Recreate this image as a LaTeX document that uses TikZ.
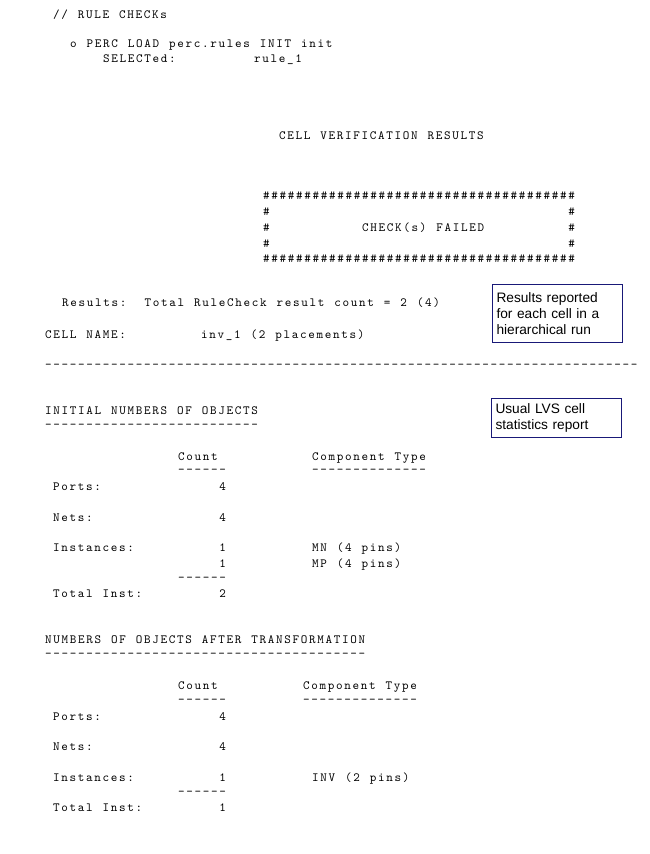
\documentclass[tikz,border=0pt]{standalone}
\usepackage{fontspec}
\newfontfamily\lstfont{lmmono10-regular}[Extension=.otf, Ligatures=TeXOff, LetterSpace=13.5]
\newfontfamily\notefont{Liberation Sans}
\definecolor{noteblue}{RGB}{25,25,120}
\newcommand\lstsize{\fontsize{12.5}{15}\lstfont\fontdimen2\font=9.94pt\fontdimen3\font=0pt\fontdimen4\font=0pt\relax}
\newcommand\banrow{\#\#\#\#\#\#\#\#\#\#\#\#\#\#\#\#\#\#\#\#\#\#\#\#\#\#\#\#\#\#\#\#\#\#\#\#\#\#}

\begin{document}
\begin{tikzpicture}[
    txt/.style={anchor=base west, inner sep=0pt, font=\lstsize},
    note/.style={draw=noteblue, line width=1pt, anchor=north west, inner xsep=4pt, inner ysep=0pt, text width=122pt, align=left, font=\fontsize{13.7}{16}\notefont},
    x=1pt, y=-1pt
]
\useasboundingbox (0,0) rectangle (650,854);
% header
\node[txt] (rulechk) at (53,18) {// RULE CHECKs};
\node[txt] (load) at (70,47) {o PERC LOAD perc.rules INIT init};
\node[txt] (sel) at (103,62) {SELECTed:};
\node[txt] (selrule) at (254,62) {rule\_1};
\node[txt] (cvr) at (279,139) {CELL VERIFICATION RESULTS};
% banner
\node[txt] (bantop) at (263,199) {\banrow};
\foreach \r/\yy in {1/215,2/231,3/247} {
  \node[txt] (banl\r) at (263,\yy) {\#};
  \node[txt] (banr\r) at (568.25,\yy) {\#};
}
\node[txt] (failed) at (362,231) {CHECK(s) FAILED};
\node[txt] (banbot) at (263,262) {\banrow};
% cell
\node[txt] (res) at (62,306) {Results:};
\node[txt] (rescount) at (144.5,306) {Total RuleCheck result count = 2 (4)};
\node[txt] (cellname) at (45,338) {CELL NAME:};
\node[txt] (cellinv) at (201,338) {inv\_1 (2 placements)};
\node[txt] (sep) at (45,368) {------------------------------------------------------------------------};
\node[note, minimum height=58pt] (hier) at (492,284) {Results reported\\for each cell in a\\hierarchical run};
\node[note, minimum height=39pt] (lvs) at (491,398) {Usual LVS cell\\statistics report};
% initial numbers
\node[txt] (init) at (45,414) {INITIAL NUMBERS OF OBJECTS};
\node[txt] (initul) at (45,428) {--------------------------};
\node[txt] (cnt1) at (178,460) {Count};
\node[txt] (comp1) at (312,460) {Component Type};
\node[txt] (cnt1ul) at (178,473) {------};
\node[txt] (comp1ul) at (312,473) {--------------};
\node[txt] (ports1) at (53,490) {Ports:};
\node[txt] (ports1n) at (219.25,490) {4};
\node[txt] (nets1) at (53,521) {Nets:};
\node[txt] (nets1n) at (219.25,521) {4};
\node[txt] (inst1) at (53,551) {Instances:};
\node[txt] (inst1n) at (219.25,551) {1};
\node[txt] (inst1t) at (312,551) {MN (4 pins)};
\node[txt] (inst1bn) at (219.25,567) {1};
\node[txt] (inst1bt) at (312,567) {MP (4 pins)};
\node[txt] (tot1ul) at (178,581) {------};
\node[txt] (tot1) at (53,597) {Total Inst:};
\node[txt] (tot1n) at (219.25,597) {2};
% after transformation
\node[txt] (after) at (45,643) {NUMBERS OF OBJECTS AFTER TRANSFORMATION};
\node[txt] (afterul) at (45,657) {---------------------------------------};
\node[txt] (cnt2) at (178,689) {Count};
\node[txt] (comp2) at (303,689) {Component Type};
\node[txt] (cnt2ul) at (178,703) {------};
\node[txt] (comp2ul) at (303,703) {--------------};
\node[txt] (ports2) at (53,720) {Ports:};
\node[txt] (ports2n) at (219.25,720) {4};
\node[txt] (nets2) at (53,750) {Nets:};
\node[txt] (nets2n) at (219.25,750) {4};
\node[txt] (inst2) at (53,781) {Instances:};
\node[txt] (inst2n) at (219.25,781) {1};
\node[txt] (inst2t) at (312,781) {INV (2 pins)};
\node[txt] (tot2ul) at (178,795) {------};
\node[txt] (tot2) at (53,811) {Total Inst:};
\node[txt] (tot2n) at (219.25,811) {1};
\end{tikzpicture}
\end{document}
